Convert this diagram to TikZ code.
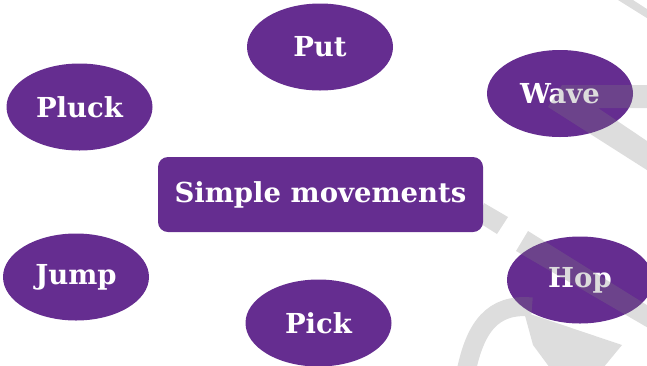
\documentclass[tikz,border=0pt]{standalone}
\usepackage{fontspec}
\setmainfont{DejaVu Serif}
\usepackage{xcolor}
\usetikzlibrary{shapes.geometric}
\definecolor{movepurple}{HTML}{652D90}

\begin{document}
\begin{tikzpicture}[x=1pt,y=-1pt,line join=round,
    move/.style={ellipse,fill=movepurple,text=white,inner sep=0pt,
        minimum width=146pt,minimum height=87pt,font=\bfseries\fontsize{27.5}{30}\selectfont},
    hub/.style={rectangle,rounded corners=10pt,fill=movepurple,text=white,
        minimum width=325pt,minimum height=75pt,font=\bfseries\fontsize{27.5}{30}\selectfont},
    wmark/.style={fill=black!50}]
\useasboundingbox (0,0) rectangle (647,365);
\clip (0,0) rectangle (647,365);

\foreach \nm/\px/\py/\txt in {put/320/47/Put, wave/560/93.5/Wave, pluck/79.5/107/Pluck,
    jump/76/277/Jump, pick/318.5/323/Pick, hop/580/280/Hop}
    \node[move] (\nm) at (\px,\py) {\txt};

% watermark
\begin{scope}[transparency group,opacity=0.27]
    \fill[wmark] (618,0) -- (633,0) -- (650,11) -- (650,20) -- cycle;
    \fill[wmark] (562,85) -- (650,85) -- (650,108) -- (598,108) -- (650,143) -- (650,172) -- (548,107) -- cycle;
    \fill[wmark] (484,203) -- (508,217) -- (497,234) -- (478,222) -- cycle;
    \fill[wmark] (528,231) -- (650,307) -- (650,329) -- (516,251) -- cycle;
    \draw[draw=black!50,line width=19pt] (466,372) .. controls (475,328) and (492,303) .. (532,307);
    \fill[wmark] (524,312) -- (622,345) -- (603,368) -- (550,368) -- (533,345) -- cycle;
\end{scope}

\node[hub] (simple) at (320.5,194.5) {Simple movements};
\end{tikzpicture}
\end{document}
